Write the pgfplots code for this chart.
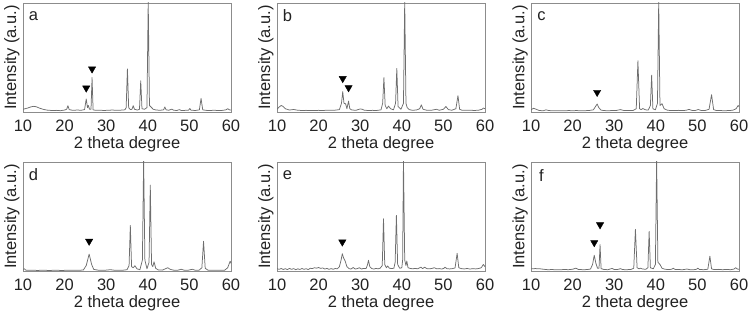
\documentclass[border=0pt]{standalone}
\usepackage{fontspec}
\setmainfont{Liberation Sans}
\usepackage{pgfplots}
\pgfplotsset{compat=1.18}
\definecolor{linegray}{HTML}{6E6E6E}
\definecolor{framegray}{HTML}{8C8C8C}
\definecolor{txt}{HTML}{222222}
\pgfplotsset{
  xrd/.style={
    scale only axis, width=208bp, height=109bp,
    xmin=10, xmax=60, ymin=0, ymax=100,
    xtick={10,20,...,60}, ytick=\empty,
    major tick length=0pt,
    axis line style={draw=framegray, line width=0.8bp},
    font=\fontsize{16.5bp}{19bp}\selectfont,
    /pgf/number format/assume math mode=true,
    xticklabel style={anchor=center, yshift=-14bp, text=txt, inner sep=0pt},
    xlabel={2 theta degree}, ylabel={Intensity (a.u.)},
    every axis x label/.style={at={(axis description cs:0.5,-0.30)}, anchor=center, text=txt, inner sep=0pt},
    every axis y label/.style={at={(axis description cs:-0.053,0.5)}, rotate=90, anchor=center, text=txt, inner sep=0pt},
    clip=true,
  },
  pat/.style={draw=linegray, line width=0.75bp, mark=none, line join=round},
  tri/.style={only marks, mark=triangle*, mark size=4.2pt, mark options={rotate=180, fill=black, draw=black}},
}
\newcommand{\plab}[1]{\node[anchor=center, text=txt, inner sep=0pt, font=\fontsize{16.5bp}{19bp}\selectfont] at (rel axis cs:0.05,0.88) {#1};}
\begin{document}
\begin{tikzpicture}
\useasboundingbox (0,0) rectangle (752bp,315bp);
% panel a
\begin{axis}[xrd, at={(23bp,203bp)}]
\addplot[pat] coordinates {(10,2.5) (11,3.5) (12,4.8) (12.6,5.2) (13.2,4.8) (14,3.5) (15,2.3) (16,1.6) (17,1.4) (18,1.5) (19,1.2) (20,1.8) (20.5,2.5) (20.8,5.8) (21.1,2.2) (22,1.5) (23,1.8) (24,1.6) (24.8,2.2) (25.2,12) (25.5,4) (25.7,6) (26.0,2.5) (26.35,2.5) (26.6,31.6) (26.85,2.0) (27.5,1.5) (28.5,1.6) (29.5,1.4) (30.5,1.6) (31.5,1.8) (32.5,1.5) (33.5,1.7) (34.5,2.0) (34.8,4) (35.1,39.5) (35.4,4) (35.8,2.2) (36.2,2.5) (36.5,5.8) (36.8,2.5) (37.5,1.8) (38.0,2.5) (38.3,28.6) (38.6,3) (39.2,2.5) (39.8,4) (40.1,102) (40.4,6) (40.8,4.5) (41.3,2.5) (42,1.8) (43,1.6) (43.8,2) (44.1,4.6) (44.4,2) (45,1.6) (45.8,2.6) (46.2,1.6) (47,1.4) (47.6,2.2) (48,1.4) (49,1.5) (49.8,1.7) (50.1,3.2) (50.4,1.6) (51.5,1.4) (52.4,2) (52.8,12.5) (53.2,2) (54,1.5) (55,1.4) (56,1.6) (57,1.3) (58,1.5) (58.8,2) (59.2,3) (59.6,2) (60,1.8)};
\addplot[tri] coordinates {(25.2,22) (26.6,39.5)};
\plab{a}
\end{axis}
% panel b
\begin{axis}[xrd, at={(277bp,203bp)}]
\addplot[pat] coordinates {(10,2.5) (10.5,4.5) (11,6) (11.5,5) (12,3) (13,1.8) (14,2.3) (15,1.6) (16,1.4) (17,1.5) (18,1.3) (19,1.4) (20,1.5) (21,1.4) (22,1.6) (23,1.5) (24,1.7) (25,2.2) (25.5,8) (25.8,18.7) (26.1,8) (26.5,7.5) (26.8,3) (27.2,10) (27.5,3) (28,1.8) (29,1.6) (30,2.8) (30.5,2.5) (31,1.6) (32,1.4) (33,1.5) (34,1.4) (35,2) (35.4,8) (35.7,31.6) (36,6) (36.4,3) (36.8,5.4) (37.3,3) (38,2) (38.5,8) (38.8,40) (39.1,5) (39.8,2.5) (40.4,8) (40.7,102) (41,8) (41.3,4) (41.8,2.2) (42.5,1.6) (43.5,1.8) (44.3,3) (44.7,6.6) (45.1,2.5) (46,1.6) (47,1.5) (48.3,2.5) (49,1.6) (50,2.5) (50.6,5) (51.2,2.2) (52,1.6) (53.0,3) (53.5,15) (53.9,2.5) (54.5,1.6) (55.5,1.5) (56.5,1.6) (57.5,1.4) (58.5,1.7) (59.3,2.5) (59.6,3.6) (60,3)};
\addplot[tri] coordinates {(25.8,30.7) (27.2,22.3)};
\plab{b}
\end{axis}
% panel c
\begin{axis}[xrd, at={(531bp,203bp)}]
\addplot[pat] coordinates {(10,2) (10.6,3.4) (11.2,2.6) (12,1.3) (13,1.2) (13.6,2) (14.3,1.3) (15,1.2) (16,1.1) (17,1.2) (18,1.1) (19,1.3) (20,1.2) (21,1.3) (22,1.1) (23,1.2) (24,1.4) (25,2) (25.5,5) (25.9,7.3) (26.3,4) (26.8,1.8) (27.5,1.3) (28.5,1.2) (29.5,1.3) (30.5,1.4) (31.5,2.2) (32.3,1.4) (33.5,1.3) (34.5,1.3) (35.3,3) (35.7,47) (36.1,3) (36.5,2.2) (36.9,3.2) (37.5,2) (38.2,1.8) (38.7,6) (39.0,33.8) (39.3,3) (39.9,2) (40.4,8) (40.7,102) (41.0,6) (41.5,7.6) (42,3) (42.8,1.6) (43.5,1.4) (44.5,1.3) (45.5,1.5) (46.5,1.3) (47.3,1.6) (48,2.4) (48.6,1.5) (49.5,1.4) (50.2,2.3) (50.8,1.5) (51.8,1.3) (52.8,2.5) (53.4,15.9) (53.9,2.2) (54.5,1.4) (55.5,1.3) (56.5,1.2) (57.5,1.3) (58.5,1.6) (59.3,3) (59.8,6) (60,5)};
\addplot[tri] coordinates {(25.9,18)};
\plab{c}
\end{axis}
% panel d
\begin{axis}[xrd, at={(23bp,44bp)}]
\addplot[pat] coordinates {(10,1.5) (10.3,2) (10.7,0.8) (11.5,0.6) (12.5,0.7) (13.5,0.5) (14.5,0.7) (15.5,0.6) (16.5,0.5) (17.5,0.7) (18.5,0.6) (19.5,0.5) (20.5,0.7) (21.5,0.6) (22.5,0.6) (23.5,0.7) (24.5,0.9) (25.2,5) (25.9,15.5) (26.5,6) (27,1.5) (28,0.8) (29,0.7) (30,0.8) (31,1.2) (32,0.7) (33,0.6) (34,0.7) (35,1.2) (35.5,5) (35.8,41.8) (36.1,4) (36.5,3) (36.9,4.8) (37.4,2) (38.1,1.2) (38.7,10) (39.0,102) (39.3,10) (39.8,2) (40.3,8) (40.6,78.8) (40.9,6) (41.2,4) (41.5,8.5) (41.9,2.5) (42.5,1) (43.5,0.8) (44.2,2) (44.8,3) (45.4,1.5) (46.3,0.7) (47.3,0.8) (48,1.6) (48.7,0.8) (49.8,0.8) (50.7,1.6) (51.3,0.8) (52.3,0.7) (53,3) (53.4,27.3) (53.8,2.5) (54.5,0.7) (55.5,0.6) (56.5,0.7) (57.5,0.6) (58.5,0.8) (59.2,3) (59.8,9) (60,7)};
\addplot[tri] coordinates {(25.9,27.3)};
\plab{d}
\end{axis}
% panel e
\begin{axis}[xrd, at={(277bp,44bp)}]
\addplot[pat] coordinates {(10,2.2) (10.5,1.5) (11,2.3) (11.5,1.4) (12,2.1) (12.5,1.3) (13,2.4) (13.5,1.5) (14,2.2) (14.5,1.2) (15,2) (15.5,1.4) (16,2.3) (16.5,1.5) (17,2.1) (17.5,1.3) (18,2.5) (18.5,2.2) (19,3) (19.5,2.6) (20,3.2) (20.5,2.4) (21,2.8) (21.5,1.8) (22,2.4) (22.5,1.5) (23,2.2) (23.5,1.6) (24,2.3) (24.5,2) (25,4) (25.4,10) (25.7,15.9) (26.0,12) (26.4,9) (26.8,4) (27.3,2.2) (27.8,1.8) (28.3,3.2) (28.8,1.8) (29.3,2.2) (29.8,3) (30.3,1.8) (30.8,2.4) (31.4,2.2) (31.7,5) (32.0,9.8) (32.3,4) (32.8,2.2) (33.3,1.8) (33.8,2.4) (34.3,2) (34.8,2.6) (35.3,5) (35.6,48) (35.9,6) (36.3,3) (36.6,4.6) (37,2.6) (37.6,2.2) (38.1,2.6) (38.4,8) (38.7,51) (39.0,6) (39.5,2.5) (40.0,3) (40.2,10) (40.4,102) (40.7,10) (41.0,5) (41.2,9.2) (41.5,3) (42,2.4) (42.6,2) (43.2,2.4) (43.8,2) (44.3,3) (44.6,3.5) (45,2.2) (45.5,3.5) (46,2.2) (46.6,2) (47.2,2.3) (47.8,3) (48.4,2) (49,2.2) (49.6,1.8) (50.1,2.4) (50.4,3.5) (50.8,2.2) (51.5,1.9) (52.2,2.2) (52.8,2.8) (53.3,16.2) (53.7,3) (54.3,2.2) (55,1.9) (55.7,2.3) (56.4,1.8) (57.1,2.2) (57.8,1.9) (58.5,2.3) (59.1,3) (59.6,6) (60,4)};
\addplot[tri] coordinates {(25.7,26.6)};
\plab{e}
\end{axis}
% panel f
\begin{axis}[xrd, at={(531bp,44bp)}]
\addplot[pat] coordinates {(10,2) (11,2.2) (12,2.1) (13,1.6) (14,1.2) (15,1.3) (16,1.2) (17,1.1) (18,1.4) (19,1.2) (20,1.6) (20.8,2.6) (21.4,1.4) (22.5,1.2) (23.5,1.3) (24.3,1.8) (24.8,6) (25.2,14.5) (25.6,7) (26.0,2.5) (26.35,2.5) (26.6,24.2) (26.85,2.2) (27.5,1.4) (28.5,1.2) (29.5,2.4) (30,1.4) (31,1.5) (31.5,2.2) (32,1.3) (33,1.2) (34,1.4) (34.7,2.5) (35.1,38.2) (35.5,3) (36,2) (36.3,2.6) (36.8,1.8) (37.6,1.6) (38.1,3) (38.4,36.4) (38.7,3) (39.4,2) (39.9,6) (40.2,102) (40.5,8) (41,6) (41.5,2.5) (42.2,1.6) (43.2,1.3) (43.8,1.6) (44.2,2.5) (44.6,1.5) (45.5,1.3) (46.5,1.2) (47.5,1.8) (48.2,1.2) (49.2,1.2) (49.8,1.6) (50.1,2.6) (50.5,1.4) (51.5,1.2) (52.5,1.6) (53,13.6) (53.4,2) (54,1.3) (55,1.5) (56,1.2) (57,1.4) (58,1.2) (58.8,1.8) (59.2,3) (59.6,1.8) (60,1.6)};
\addplot[tri] coordinates {(25.2,26) (26.6,42.4)};
\plab{f}
\end{axis}
\end{tikzpicture}
\end{document}
